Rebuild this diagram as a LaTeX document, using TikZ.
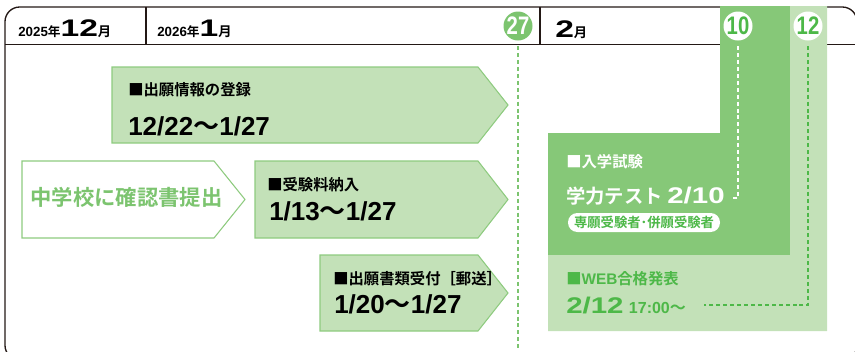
\documentclass[tikz,border=0pt]{standalone}
\usepackage{fontspec}
\setmainfont{Noto Sans CJK JP}[BoldFont={* Bold}]
\newfontfamily\latfont{Liberation Sans}
\usepackage{graphicx}
\usepackage{xcolor}
\usetikzlibrary{positioning,calc}

\definecolor{lgreen}{HTML}{C3E1B8}
\definecolor{dgreen}{HTML}{86C878}
\definecolor{edgegreen}{HTML}{8ECB7F}
\definecolor{textgreen}{HTML}{4DB848}
\definecolor{softgreen}{HTML}{7CC46F}
\definecolor{framegray}{HTML}{231815}

\newcommand\fsz[1]{\fontsize{#1}{#1}\selectfont}
\newcommand\stretchnum[2]{\scalebox{#1}[1]{\latfont #2}}

\begin{document}
\begin{tikzpicture}[x=0.75pt,y=-0.75pt,
	every node/.style={inner sep=0pt,font=\bfseries},
	frameline/.style={draw=framegray,line width=1pt},
	arrowbox/.style={draw=edgegreen,fill=lgreen,line width=0.8pt},
	smalltxt/.style={anchor=base west,font=\fsz{11.5}\bfseries},
	datetxt/.style={anchor=base west,font=\fsz{19.5}\bfseries},
	daycircle/.style={circle,minimum size=21.75pt,font=\fsz{19}\bfseries},
	dashline/.style={line width=1.1pt,dash pattern=on 3pt off 2.2pt,shorten <=4pt},
	pill/.style={fill=white,rounded corners=7pt,minimum width=114pt,minimum height=14.25pt}]
			\useasboundingbox (0,0) rectangle (855,351);
			\begin{scope}
				\clip (0,0) rectangle (855,351);
				\draw[frameline,rounded corners=11pt] (5,360) -- (5,7) -- (857,7) -- (857,360) -- cycle;
				\draw[frameline] (5,44.5) -- (857,44.5);
				\draw[frameline] (146,7) -- (146,44.5) (540,7) -- (540,44.5);
				\fill[dgreen] (548,133) -- (720,133) -- (720,6) -- (790,6) -- (790,255) -- (548,255) -- cycle;
				\fill[lgreen] (790,6) -- (827,6) -- (827,331) -- (548,331) -- (548,255) -- (790,255) -- cycle;
			\end{scope}
			\node[anchor=base west] (hdec) at (18,36) {{\fsz{10}\latfont 2025}{\fsz{9.5}年}{\fsz{18}\stretchnum{1.4}{12}}{\fsz{10}月}};
			\node[anchor=base west] (hjan) at (157,36) {{\fsz{10}\latfont 2026}{\fsz{9.5}年}{\fsz{18}\stretchnum{1.4}{1}}{\fsz{10}月}};
			\node[anchor=base west] (hfeb) at (555,37) {{\fsz{18}\stretchnum{1.4}{2}}{\fsz{10}月}};
			\node[daycircle,fill=softgreen,text=white] (c27) at (518,26) {\stretchnum{0.8}{27}};
			\node[daycircle,fill=white,text=textgreen] (c10) at (738,26) {\stretchnum{0.8}{10}};
			\node[daycircle,fill=white,text=textgreen] (c12) at (808,26) {\stretchnum{0.8}{12}};
			\coordinate (e27) at (518,351);
			\coordinate (e10) at (733,198);
			\coordinate (e12) at (704,305);
			\draw[dashline,draw=softgreen] (c27.south) -- (e27);
			\draw[dashline,draw=white] (c10.south) |- (e10);
			\draw[dashline,draw=textgreen] (c12.south) |- (e12);
			\draw[arrowbox] (112,67) -- (478,67) -- (508,105) -- (478,143) -- (112,143) -- cycle;
			\draw[arrowbox,fill=white] (22,161) -- (214,161) -- (245,199.5) -- (214,238) -- (22,238) -- cycle;
			\draw[arrowbox] (255,161) -- (478,161) -- (508,199.5) -- (478,238) -- (255,238) -- cycle;
			\draw[arrowbox] (320,255) -- (478,255) -- (508,293) -- (478,331) -- (320,331) -- cycle;
			\node[smalltxt] (reg) at (128,95) {■出願情報の登録};
			\node[datetxt] (regdate) at (128,135) {{\latfont 12/22}～{\latfont 1/27}};
			\node[anchor=base,font=\fsz{16}\bfseries,text=softgreen] (school) at (126.5,205) {中学校に確認書提出};
			\node[smalltxt] (fee) at (267,190) {■受験料納入};
			\node[datetxt] (feedate) at (269,220) {{\latfont 1/13}～{\latfont 1/27}};
			\node[smalltxt] (mail) at (333,284) {■出願書類受付［郵送］};
			\node[datetxt] (maildate) at (334,313) {{\latfont 1/20}～{\latfont 1/27}};
			\node[smalltxt,text=white] (exam) at (566,167) {■入学試験};
			\node[anchor=base west,text=white,font=\fsz{14.5}\bfseries] (examdate) at (566,203) {学力テスト \stretchnum{1.3}{\fsz{17}2/10}};
			\node[pill,text=textgreen] (group) at (644,222.5) {\fsz{10}専願受験者･併願受験者};
			\node[smalltxt,text=textgreen] (web) at (566,284) {■{\latfont WEB}合格発表};
			\node[anchor=base west,text=textgreen] (webdate) at (566,313) {\stretchnum{1.3}{\fsz{17}2/12}\hspace{4pt}{\fsz{12}\latfont 17:00}{\fsz{12}～}};
\end{tikzpicture}
\end{document}
